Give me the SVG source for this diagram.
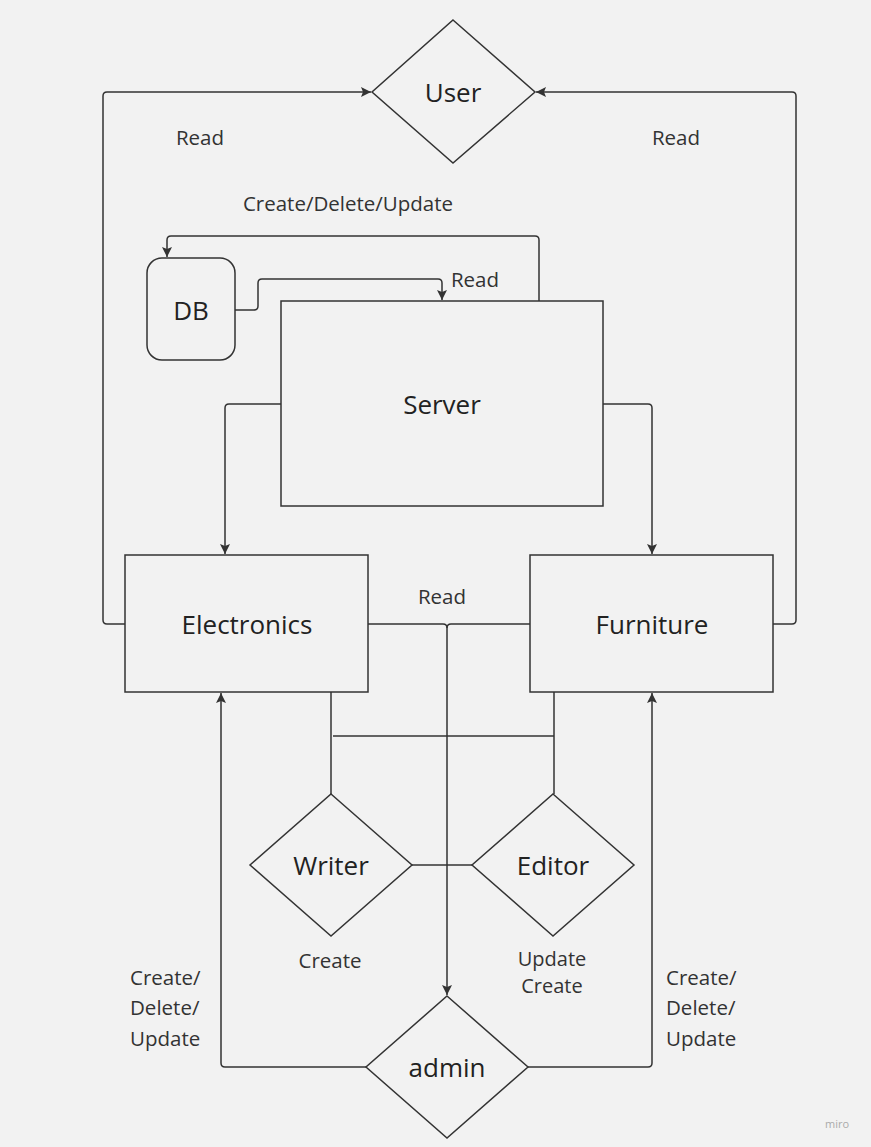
<svg xmlns="http://www.w3.org/2000/svg" width="871" height="1147" viewBox="0 0 871 1147">
<style>
.node{fill:none;stroke:#333;stroke-width:1.5}
.edge{fill:none;stroke:#333;stroke-width:1.5}
.arr{marker-end:url(#ah)}
.nt{font-family:"Open Sans","Noto Sans",sans-serif;font-size:26px;fill:#222;text-anchor:middle;dominant-baseline:central}
.lt{font-family:"Open Sans","Noto Sans",sans-serif;font-size:20.5px;fill:#333;text-anchor:middle;dominant-baseline:central}
.ll{font-family:"Open Sans","Noto Sans",sans-serif;font-size:20.5px;fill:#333;dominant-baseline:central}
</style>
<defs>
<marker id="ah" viewBox="0 0 10 10" refX="10" refY="5" markerWidth="10" markerHeight="10" markerUnits="userSpaceOnUse" orient="auto">
<path d="M0,0 L10,5 L0,10 L2,5 z" fill="#333"/>
</marker>
</defs>
<rect width="871" height="1147" fill="#f2f2f2"/>
<g id="connectors">
<path class="edge arr" d="M125,624 H107 Q103,624 103,620 V96 Q103,92 107,92 H371"/>
<path class="edge arr" d="M773,624 H792 Q796,624 796,620 V96 Q796,92 792,92 H536"/>
<path class="edge arr" d="M539,301 V240 Q539,236 535,236 H171 Q167,236 167,240 V257"/>
<path class="edge arr" d="M235,310 H254 Q258,310 258,306 V283 Q258,279 262,279 H438 Q442,279 442,283 V300"/>
<path class="edge arr" d="M281,404 H229 Q225,404 225,408 V554"/>
<path class="edge arr" d="M603,404 H648 Q652,404 652,408 V554"/>
<path class="edge" d="M368,624 H443 Q447,624 447,628"/>
<path class="edge arr" d="M530,624 H451 Q447,624 447,628 V995"/>
<path class="edge" d="M331,692 V794"/>
<path class="edge" d="M554,692 V794"/>
<path class="edge" d="M333,736 H554"/>
<path class="edge" d="M412,865 H472"/>
<path class="edge arr" d="M366,1067 H225 Q221,1067 221,1063 V693"/>
<path class="edge arr" d="M528,1067 H648 Q652,1067 652,1063 V693"/>
<text class="lt" x="200" y="137">Read</text>
<text class="lt" x="676" y="137">Read</text>
<text class="lt" x="348" y="203">Create/Delete/Update</text>
<text class="lt" x="475" y="279">Read</text>
<text class="lt" x="442" y="596">Read</text>
<text class="lt" x="330" y="960">Create</text>
<text class="lt" x="552" y="958" style="font-size:20px">Update</text>
<text class="lt" x="552" y="985" style="font-size:20px">Create</text>
<text class="ll" x="130" y="977">Create/</text>
<text class="ll" x="130" y="1007">Delete/</text>
<text class="ll" x="130" y="1038">Update</text>
<text class="ll" x="666" y="977">Create/</text>
<text class="ll" x="666" y="1007">Delete/</text>
<text class="ll" x="666" y="1038">Update</text>
</g>
<g id="user"><polygon class="node" points="453,20 535,92 453,163 372,92"/><text class="nt" x="453" y="92">User</text></g>
<g id="db"><rect class="node" x="147" y="258" width="88" height="102" rx="15"/><text class="nt" x="191" y="310">DB</text></g>
<g id="server"><rect class="node" x="281" y="301" width="322" height="205"/><text class="nt" x="442" y="404">Server</text></g>
<g id="electronics"><rect class="node" x="125" y="555" width="243" height="137"/><text class="nt" x="247" y="624">Electronics</text></g>
<g id="furniture"><rect class="node" x="530" y="555" width="243" height="137"/><text class="nt" x="652" y="624">Furniture</text></g>
<g id="writer"><polygon class="node" points="331,794 412,865 331,936 250,865"/><text class="nt" x="331" y="865">Writer</text></g>
<g id="editor"><polygon class="node" points="553,794 634,865 553,936 472,865"/><text class="nt" x="553" y="865">Editor</text></g>
<g id="admin"><polygon class="node" points="447,996 528,1067 447,1138 366,1067"/><text class="nt" x="447" y="1067">admin</text></g>
<text x="837" y="1123" font-family="Open Sans, sans-serif" font-size="11" fill="#aaa" text-anchor="middle" dominant-baseline="central">miro</text>
</svg>
